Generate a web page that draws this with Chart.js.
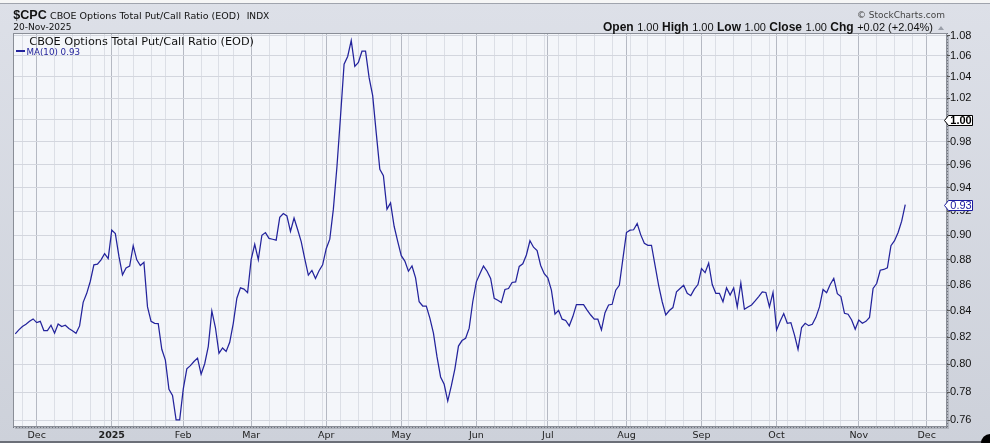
<!DOCTYPE html>
<html><head><meta charset="utf-8">
<script src="https://cdn.jsdelivr.net/npm/chart.js@4.4.1/dist/chart.umd.min.js"></script>
<style>html,body{margin:0;padding:0;background:#d9dde5;}canvas{display:block}</style>
</head><body>
<canvas id="c" width="990" height="443"></canvas>
<script>
// MA(10) of $CPC, one value per trading day, 21-Nov-2024 .. 20-Nov-2025
const maValues = [
0.8225,0.8255,0.828,0.8298,0.832,0.8338,0.831,0.832,0.825,0.825,
0.829,0.823,0.830,0.828,0.829,0.8265,0.8248,0.823,0.8285,0.8465,
0.8535,0.863,0.876,0.8765,0.880,0.885,0.881,0.9042,0.9013,0.883,
0.868,0.8735,0.875,0.8915,0.880,0.8755,0.878,0.843,0.832,0.8305,
0.8303,0.811,0.803,0.782,0.7776,0.7604,0.7604,0.782,0.7967,0.799,
0.802,0.8045,0.7928,0.8004,0.813,0.8399,0.8273,0.808,0.812,0.8094,
0.8162,0.8305,0.8497,0.8578,0.8568,0.854,0.8802,0.8926,0.8802,0.900,
0.9022,0.8974,0.8967,0.896,0.9148,0.918,0.916,0.9032,0.9142,0.9047,
0.8948,0.8808,0.8679,0.8715,0.8652,0.8713,0.876,0.889,0.8968,0.9217,
0.958,1.003,1.052,1.0595,1.075,1.05,1.0538,1.0646,1.0646,1.0392,
1.0223,0.9879,0.9558,0.9502,0.9217,0.927,0.9074,0.895,0.8834,0.879,
0.8709,0.8751,0.8657,0.847,0.8437,0.8437,0.8344,0.823,0.8054,0.7908,
0.7855,0.7736,0.7843,0.7967,0.8134,0.8175,0.8192,0.8268,0.847,0.8625,
0.869,0.875,0.8709,0.8652,0.8496,0.8481,0.8463,0.8565,0.8573,0.862,
0.8625,0.8747,0.8768,0.8839,0.8955,0.8902,0.8875,0.8755,0.869,0.8657,
0.856,0.8374,0.8404,0.8336,0.8326,0.8286,0.8356,0.8448,0.8448,0.8448,
0.8406,0.8368,0.8336,0.8336,0.8255,0.8386,0.8445,0.845,0.856,0.8598,
0.8808,0.9022,0.9042,0.9045,0.9097,0.9003,0.8934,0.8918,0.8918,0.8755,
0.8598,0.847,0.8368,0.8402,0.8425,0.8547,0.8573,0.8598,0.8535,0.8517,
0.8568,0.8604,0.873,0.8698,0.8774,0.8604,0.8535,0.8535,0.847,0.8578,
0.8522,0.8578,0.843,0.8617,0.8412,0.843,0.8445,0.8476,0.851,0.8547,
0.8542,0.843,0.8542,0.8255,0.832,0.8379,0.8305,0.831,0.8217,0.811,
0.8273,0.8305,0.8287,0.8297,0.835,0.843,0.8565,0.854,0.8604,0.8652,
0.8532,0.851,0.8381,0.8374,0.833,0.826,0.833,0.8305,0.832,0.835,
0.8573,0.8612,0.8717,0.8723,0.8736,0.8915,0.8955,0.9022,0.9116,0.9255
];
// trading-day index of first session of each month, and labels
const monthTickIndex = [6,27,47,66,87,108,129,149,171,192,213,236,255];
const monthLabels = ['Dec','2025','Feb','Mar','Apr','May','Jun','Jul','Aug','Sep','Oct','Nov','Dec'];
// first session of each week
const weekTickIndex = [2,6,11,16,21,25,29,33,38,42,47,52,57,61,66,71,76,81,86,91,96,100,105,110,115,120,125,129,134,139,143,148,152,157,162,167,172,177,182,187,192,196,201,206,211,216,221,226,231,236,241,246,251,255];
const yTickValues = [0.76,0.78,0.80,0.82,0.84,0.86,0.88,0.90,0.92,0.94,0.96,0.98,1.00,1.02,1.04,1.06,1.08];
const closeValue = 1.00;
const headerQuote = [['Open','1.00'],['High','1.00'],['Low','1.00'],['Close','1.00'],['Chg','+0.02 (+2.04%)']];

const allXTicks = Array.from(new Set(weekTickIndex.concat(monthTickIndex))).sort((a,b)=>a-b);
const monthSet = new Set(monthTickIndex);
const NAVY = '#23239c';
const BOLD_Q = 'bold 12px "Liberation Sans", Arial, sans-serif';
const NORM_Q = '11px "Liberation Sans", Arial, sans-serif';

function fitText(ctx, text, x, y, family, weight, targetW, color, base) {
  ctx.font = weight + ' ' + base + 'px ' + family;
  const w = ctx.measureText(text).width;
  const s = base * targetW / w;
  ctx.font = weight + ' ' + s.toFixed(2) + 'px ' + family;
  ctx.fillStyle = color; ctx.textAlign = 'left'; ctx.textBaseline = 'alphabetic';
  ctx.fillText(text, x, y);
}

function tagBox(ctx, yPix, x0, text, stroke, fill, textColor, bold) {
  ctx.save();
  ctx.beginPath();
  ctx.moveTo(x0, yPix);
  ctx.lineTo(x0 + 4, yPix - 5);
  ctx.lineTo(x0 + 28, yPix - 5);
  ctx.lineTo(x0 + 28, yPix + 5);
  ctx.lineTo(x0 + 4, yPix + 5);
  ctx.closePath();
  ctx.fillStyle = fill; ctx.fill();
  ctx.lineWidth = 1; ctx.strokeStyle = stroke; ctx.stroke();
  ctx.font = (bold ? 'bold ' : '') + '11px "Liberation Sans", Arial, sans-serif';
  ctx.fillStyle = textColor; ctx.textAlign = 'center'; ctx.textBaseline = 'middle';
  ctx.fillText(text, x0 + 16.5, yPix + 0.5);
  ctx.restore();
}

const decorPlugin = {
  id: 'decor',
  beforeDraw(chart) {
    const {ctx, chartArea: a, width, height} = chart;
    ctx.save();
    const g = ctx.createLinearGradient(0, 0, 0, height);
    g.addColorStop(0, '#dde0e8'); g.addColorStop(1, '#cdd1da');
    ctx.fillStyle = g; ctx.fillRect(0, 0, width, height);
    ctx.fillStyle = '#f6f6f6'; ctx.fillRect(0, 0, width, 3);
    ctx.fillStyle = '#a0a4ad'; ctx.fillRect(0, 3, width, 1);
    ctx.fillStyle = '#b0b4bd';
    ctx.fillRect(a.left + 2, a.bottom, a.right - a.left, 2);
    ctx.fillRect(a.right, a.top + 2, 2, a.bottom - a.top);
    ctx.fillStyle = '#f4f6fa';
    ctx.fillRect(a.left, a.top, a.right - a.left, a.bottom - a.top);
    ctx.restore();
  },
  afterDraw(chart) {
    const {ctx, chartArea: a, width, height} = chart;
    const ys = chart.scales.y;
    ctx.save();
    ctx.strokeStyle = '#8a8e97'; ctx.lineWidth = 1;
    ctx.strokeRect(a.left + 0.5, a.top + 0.5, a.right - a.left - 1, a.bottom - a.top - 1);
    ctx.setLineDash([1, 2]); ctx.strokeStyle = '#6f737c';
    ctx.beginPath(); ctx.moveTo(a.right + 0.5, a.top); ctx.lineTo(a.right + 0.5, a.bottom); ctx.stroke();
    ctx.beginPath(); ctx.moveTo(a.left, a.bottom + 0.5); ctx.lineTo(a.right, a.bottom + 0.5); ctx.stroke();
    ctx.setLineDash([]);
    ctx.fillStyle = '#6b6f78'; ctx.fillRect(0, height - 2, width, 2);
    // header
    fitText(ctx, '$CPC', 13.3, 19, '"Liberation Sans", Arial, sans-serif', 'bold', 33.5, '#111', 16);
    fitText(ctx, 'CBOE Options Total Put/Call Ratio (EOD)', 50, 18.5, '"DejaVu Sans", Verdana, sans-serif', 'normal', 190, '#111', 9);
    fitText(ctx, 'INDX', 246.7, 18.5, '"DejaVu Sans", Verdana, sans-serif', 'normal', 22.6, '#111', 9);
    fitText(ctx, '20-Nov-2025', 13.3, 30, '"DejaVu Sans", Verdana, sans-serif', 'normal', 58.4, '#111', 9);
    fitText(ctx, '\u00A9 StockCharts.com', 857, 17.5, '"DejaVu Sans", Verdana, sans-serif', 'normal', 88, '#444', 9);
    // quote line, laid out left to right between x=603 and x=933
    ctx.textAlign = 'left'; ctx.textBaseline = 'alphabetic'; ctx.fillStyle = '#111';
    let natural = 0;
    const sp = 3.5;
    headerQuote.forEach(q => {
      ctx.font = BOLD_Q; natural += ctx.measureText(q[0]).width + sp;
      ctx.font = NORM_Q; natural += ctx.measureText(q[1]).width;
    });
    const gap = (933 - 603 - natural) / (headerQuote.length - 1);
    let qx = 603;
    headerQuote.forEach(q => {
      ctx.font = BOLD_Q; ctx.fillText(q[0], qx, 31); qx += ctx.measureText(q[0]).width + sp;
      ctx.font = NORM_Q; ctx.fillText(q[1], qx, 31); qx += ctx.measureText(q[1]).width + gap;
    });
    ctx.fillStyle = '#9a9ea8';
    ctx.beginPath(); ctx.moveTo(938, 30); ctx.lineTo(941, 26); ctx.lineTo(944, 30); ctx.closePath(); ctx.fill();
    // in-plot titles and legend
    fitText(ctx, 'CBOE Options Total Put/Call Ratio (EOD)', 29.3, 44.5, '"DejaVu Sans", Verdana, sans-serif', 'normal', 225, '#111', 10);
    ctx.fillStyle = NAVY; ctx.fillRect(16, 50, 9, 2);
    const last = maValues[maValues.length - 1];
    fitText(ctx, 'MA(10) ' + last.toFixed(2), 26.5, 54.5, '"DejaVu Sans", Verdana, sans-serif', 'normal', 53.5, NAVY, 9);
    tagBox(ctx, Math.round(ys.getPixelForValue(closeValue)) + 0.5, a.right - 2.5, closeValue.toFixed(2), '#000', '#fff', '#000', true);
    tagBox(ctx, Math.round(ys.getPixelForValue(last)) + 0.5, a.right - 2.5, last.toFixed(2), '#1a1aa0', '#fff', '#1a1aa0', false);
    ctx.fillStyle = '#000'; ctx.beginPath(); ctx.arc(width, height, 9, 0, Math.PI * 2); ctx.fill();
    ctx.restore();
  }
};

new Chart(document.getElementById('c'), {
  type: 'line',
  data: {
    datasets: [{
      data: maValues.map((v, i) => ({x: i, y: v})),
      borderColor: NAVY, borderWidth: 1.25, pointRadius: 0, tension: 0, fill: false
    }]
  },
  options: {
    responsive: false, animation: false, devicePixelRatio: 1,
    layout: {padding: {left: 13, top: 33, right: 0, bottom: 0}},
    plugins: {legend: {display: false}, tooltip: {enabled: false}},
    scales: {
      x: {
        type: 'linear', min: -0.63, max: 260.68,
        afterBuildTicks: s => { s.ticks = allXTicks.map(v => ({value: v})); },
        afterFit: s => { s.height = 16; },
        grid: {
          drawTicks: false,
          color: c => (c.tick && monthSet.has(c.tick.value)) ? '#b5b9c3' : '#dcdfe6',
          lineWidth: 1
        },
        border: {display: false},
        ticks: {
          autoSkip: false, maxRotation: 0, padding: 3, color: '#222',
          callback: v => { const k = monthTickIndex.indexOf(v); return k >= 0 ? monthLabels[k] : ''; },
          font: c => ({family: '"DejaVu Sans", Verdana, sans-serif', size: 9.5,
                        weight: (c.tick && c.tick.label === '2025') ? 'bold' : 'normal'})
        }
      },
      y: {
        type: 'logarithmic', position: 'right', min: 0.75548, max: 1.08246,
        afterBuildTicks: s => { s.ticks = yTickValues.map(v => ({value: v})); },
        afterFit: s => { s.width = 43; },
        grid: {color: '#d3d6de', drawTicks: true, tickLength: 3, tickColor: '#555'},
        border: {display: false},
        ticks: {
          padding: 0, color: '#111', autoSkip: false,
          font: {family: '"Liberation Sans", Arial, sans-serif', size: 11},
          callback: v => (Math.abs(v - closeValue) < 1e-9 ? '' : Number(v).toFixed(2))
        }
      }
    }
  },
  plugins: [decorPlugin]
});
</script>
</body></html>
